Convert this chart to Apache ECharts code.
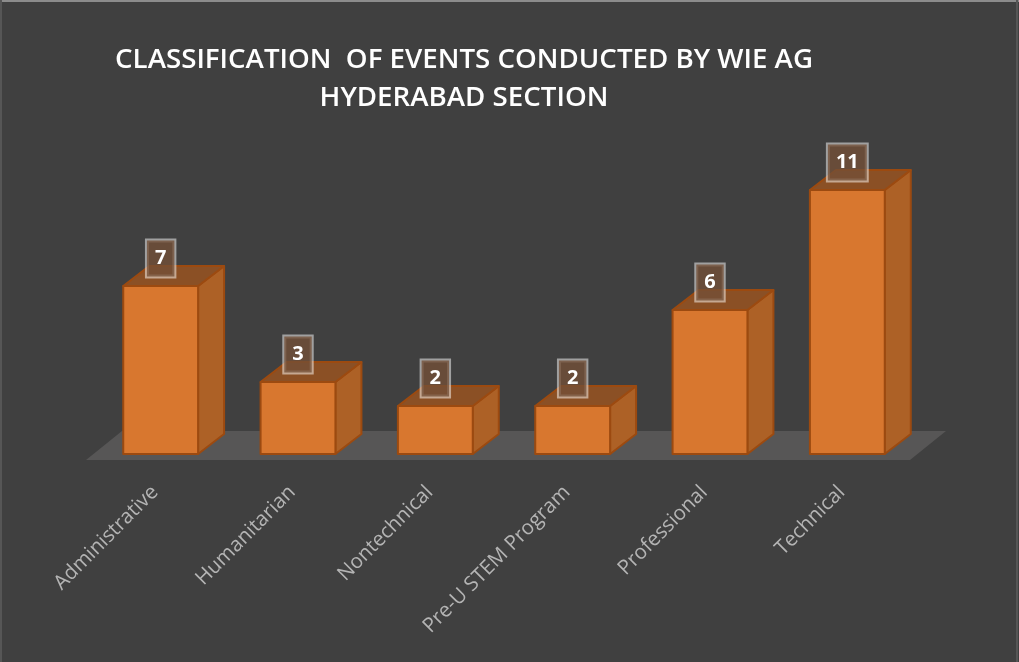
<!DOCTYPE html>
<html>
<head>
<meta charset="utf-8">
<style>
html,body{margin:0;padding:0;background:#404040;}
#main{width:1019px;height:662px;}
</style>
<script src="https://cdn.jsdelivr.net/npm/echarts@6/dist/echarts.min.js"></script>
</head>
<body>
<div id="main"></div>
<script>
var categories = ['Administrative', 'Humanitarian', 'Nontechnical', 'Pre-U STEM Program', 'Professional', 'Technical'];
var eventCounts = [7, 3, 2, 2, 6, 11];
var chartTitle = 'CLASSIFICATION  OF EVENTS CONDUCTED BY WIE AG\nHYDERABAD SECTION';

// depth of the fake 3d box, in px
var depthX = 26, depthY = -20;

function renderFloor(params, api) {
    var c = params.coordSys;
    var base = c.y + c.height;
    return {
        type: 'polygon',
        silent: true,
        shape: {points: [
            [c.x - 6, base + 6],
            [c.x + c.width - 6, base + 6],
            [c.x + c.width + 30, base - 23],
            [c.x + 30, base - 23]
        ]},
        style: {fill: '#575656'}
    };
}

function renderBox(params, api) {
    var top = api.coord([api.value(0), api.value(1)]);
    var bottom = api.coord([api.value(0), 0]);
    var w = api.size([1, 0])[0] * 0.545;
    var l = top[0] - w / 2, r = top[0] + w / 2;
    var edge = {stroke: '#9c4a10', lineWidth: 2, lineJoin: 'round'};
    return {
        type: 'group',
        children: [
            {
                type: 'polygon',
                shape: {points: [[r, bottom[1]], [r + depthX, bottom[1] + depthY], [r + depthX, top[1] + depthY], [r, top[1]]]},
                style: Object.assign({fill: '#ad6126'}, edge)
            },
            {
                type: 'polygon',
                shape: {points: [[l, top[1]], [r, top[1]], [r + depthX, top[1] + depthY], [l + depthX, top[1] + depthY]]},
                style: Object.assign({fill: '#8b5025'}, edge)
            },
            {
                type: 'rect',
                shape: {x: l, y: top[1], width: w, height: bottom[1] - top[1]},
                style: Object.assign({fill: '#d8772f'}, edge)
            },
            {
                type: 'text',
                x: top[0],
                y: top[1] - 27.5,
                style: {
                    text: String(api.value(1)),
                    fill: '#ffffff',
                    font: 'bold 20px "Open Sans"',
                    align: 'center',
                    verticalAlign: 'middle',
                    backgroundColor: 'rgba(115,80,55,0.78)',
                    borderColor: 'rgba(255,255,255,0.5)',
                    borderWidth: 2,
                    padding: [8, 8, 8, 8],
                    boxShadowColor: 'rgba(0,0,0,0.22)',
                    boxShadowBlur: 12,
                    boxShadowOffsetX: 4
                }
            }
        ]
    };
}

var chart = echarts.init(document.getElementById('main'));
var option = {
    backgroundColor: '#404040',
    animation: false,
    title: {
        text: chartTitle,
        left: 459,
        top: 36,
        textAlign: 'center',
        textStyle: {color: '#ffffff', fontFamily: 'Open Sans', fontWeight: 600, fontSize: 27.7, lineHeight: 38}
    },
    // scan edge of the screenshot
    graphic: [
        {type: 'rect', shape: {x: 0, y: 0, width: 1019, height: 2}, style: {fill: '#8c8c8c'}, silent: true},
        {type: 'rect', shape: {x: 0, y: 0, width: 2, height: 662}, style: {fill: '#565656'}, silent: true},
        {type: 'rect', shape: {x: 1016, y: 0, width: 2, height: 662}, style: {fill: '#565656'}, silent: true}
    ],
    grid: {left: 92, top: 166, width: 824, height: 288},
    xAxis: {
        type: 'category',
        data: categories,
        axisLine: {show: false},
        axisTick: {show: false},
        axisLabel: {rotate: 45, margin: 29.5, padding: [0, 8, 0, 0], color: '#b4b4b4', fontFamily: 'Open Sans', fontSize: 20.4, interval: 0}
    },
    yAxis: {type: 'value', min: 0, max: 12, show: false, splitLine: {show: false}},
    series: [
        {type: 'custom', renderItem: renderFloor, data: [0], z: 1, silent: true},
        {type: 'custom', renderItem: renderBox, encode: {x: 0, y: 1}, data: categories.map(function (c, i) { return [i, eventCounts[i]]; }), z: 2}
    ]
};
chart.setOption(option);
</script>
</body>
</html>
